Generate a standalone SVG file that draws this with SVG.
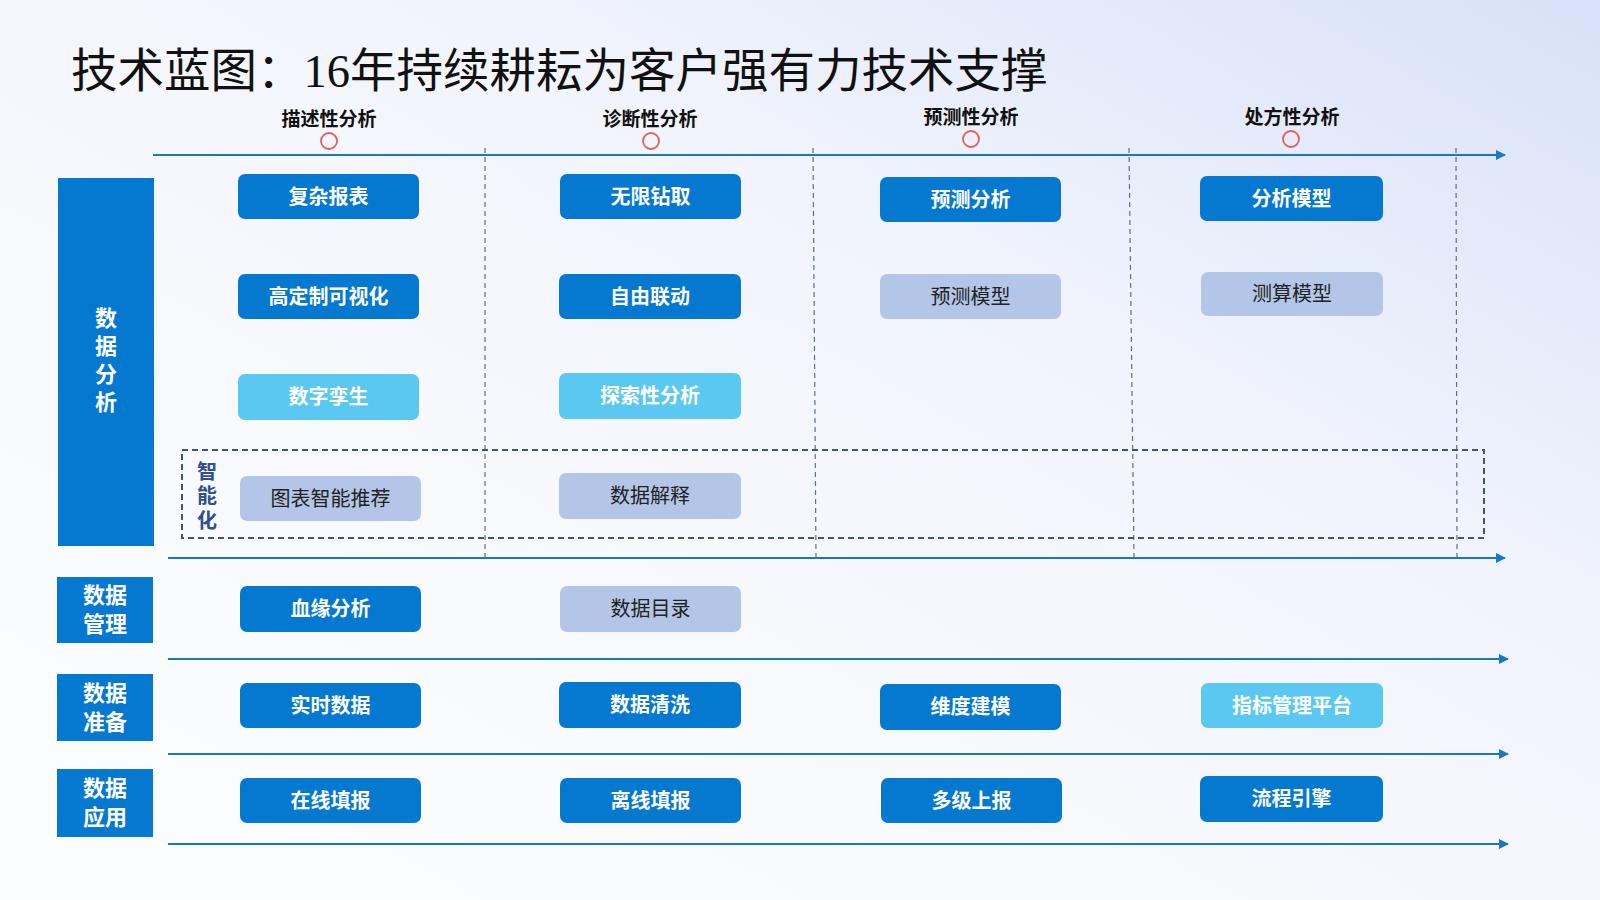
<svg xmlns="http://www.w3.org/2000/svg" width="1600" height="900" viewBox="0 0 1600 900">
<defs>
<linearGradient id="bg" x1="1" y1="0" x2="0" y2="1">
<stop offset="0" stop-color="#d8e1f8"/>
<stop offset="0.35" stop-color="#f1f4fc"/>
<stop offset="0.7" stop-color="#f9fafd"/>
<stop offset="1" stop-color="#fcfdfe"/>
</linearGradient>
<marker id="arr" viewBox="0 0 10 10" refX="9" refY="5" markerWidth="10" markerHeight="10" markerUnits="userSpaceOnUse" orient="auto">
<path d="M0,0 L10,5 L0,10 z" fill="#1a78c2"/>
</marker>
<style>
.t{font-family:"Noto Sans CJK SC","Noto Sans",sans-serif;}
.title{font-family:"Liberation Serif","Noto Sans CJK SC",serif;font-size:46.5px;fill:#111;}
.hd{font-size:19px;font-weight:700;fill:#111;text-anchor:middle;}
.dk{fill:#0578d0;}
.lt{fill:#5bc8f1;}
.gr{fill:#b4c6e7;}
.bw{font-size:20px;font-weight:700;fill:#fff;text-anchor:middle;}
.bd{font-size:20px;font-weight:400;fill:#222;text-anchor:middle;}
.side{font-size:22px;font-weight:700;fill:#fff;text-anchor:middle;}
.vert{writing-mode:vertical-rl;}
.axis{stroke:#1a78c2;stroke-width:2;fill:none;}
.vd{stroke:#5d6f88;stroke-width:1.2;stroke-dasharray:5 4;fill:none;}
.ring{fill:none;stroke:#e0605a;stroke-width:1.8;}
</style>
</defs>
<rect x="0" y="0" width="1600" height="900" fill="url(#bg)"/>

<text class="title" x="71" y="87">技术蓝图：16年持续耕耘为客户强有力技术支撑</text>

<g id="headers" class="t">
<text class="hd" x="329" y="126">描述性分析</text>
<text class="hd" x="650" y="126">诊断性分析</text>
<text class="hd" x="971" y="124">预测性分析</text>
<text class="hd" x="1292" y="124">处方性分析</text>
<circle class="ring" cx="329" cy="141" r="8"/>
<circle class="ring" cx="651" cy="141" r="8"/>
<circle class="ring" cx="971" cy="139" r="8"/>
<circle class="ring" cx="1291" cy="139" r="8"/>
</g>

<g id="connectors">
<line class="axis" x1="153" y1="155" x2="1505" y2="155" marker-end="url(#arr)"/>
<line class="axis" x1="168" y1="558" x2="1505" y2="558" marker-end="url(#arr)"/>
<line class="axis" x1="168" y1="659" x2="1508" y2="659" marker-end="url(#arr)"/>
<line class="axis" x1="168" y1="754" x2="1508" y2="754" marker-end="url(#arr)"/>
<line class="axis" x1="168" y1="844" x2="1508" y2="844" marker-end="url(#arr)"/>
<line class="vd" x1="485" y1="148" x2="485" y2="557"/>
<line class="vd" x1="813" y1="148" x2="816" y2="557"/>
<line class="vd" x1="1129" y1="148" x2="1134" y2="557"/>
<line class="vd" x1="1456" y1="148" x2="1457" y2="557"/>
</g>

<g id="smart-frame" class="t">
<rect x="182" y="450" width="1302" height="88" fill="none" stroke="#44546a" stroke-width="2" stroke-dasharray="6 4"/>
<text class="vert" x="207" y="461" font-size="20" font-weight="700" fill="#2f4f8f" letter-spacing="4.5">智能化</text>
</g>

<g id="side-analysis" class="t">
<rect class="dk" x="58" y="178" width="96" height="368"/>
<text class="vert" x="106" y="307" font-size="22" font-weight="700" fill="#fff" letter-spacing="6">数据分析</text>
</g>
<g id="side-mgmt" class="t">
<rect class="dk" x="57" y="577" width="96" height="66"/>
<text class="side" x="105" y="603">数据<tspan x="105" dy="29">管理</tspan></text>
</g>
<g id="side-prep" class="t">
<rect class="dk" x="57" y="674" width="96" height="67"/>
<text class="side" x="105" y="701">数据<tspan x="105" dy="29">准备</tspan></text>
</g>
<g id="side-app" class="t">
<rect class="dk" x="57" y="769" width="96" height="68"/>
<text class="side" x="105" y="796">数据<tspan x="105" dy="29">应用</tspan></text>
</g>

<g id="n-fuzabaobiao" class="t"><rect class="dk" x="238" y="174" width="181" height="45" rx="7"/><text class="bw" x="328.5" y="204">复杂报表</text></g>
<g id="n-wuxianzuanqu" class="t"><rect class="dk" x="560" y="174" width="181" height="45" rx="7"/><text class="bw" x="650.5" y="204">无限钻取</text></g>
<g id="n-yucefenxi" class="t"><rect class="dk" x="880" y="177" width="181" height="45" rx="7"/><text class="bw" x="970.5" y="207">预测分析</text></g>
<g id="n-fenximoxing" class="t"><rect class="dk" x="1200" y="176" width="183" height="45" rx="7"/><text class="bw" x="1291.5" y="206">分析模型</text></g>

<g id="n-gaodingzhi" class="t"><rect class="dk" x="238" y="274" width="181" height="45" rx="7"/><text class="bw" x="328.5" y="304">高定制可视化</text></g>
<g id="n-ziyouliandong" class="t"><rect class="dk" x="559" y="274" width="182" height="45" rx="7"/><text class="bw" x="650" y="304">自由联动</text></g>
<g id="n-yucemoxing" class="t"><rect class="gr" x="880" y="274" width="181" height="45" rx="7"/><text class="bd" x="970.5" y="304">预测模型</text></g>
<g id="n-cesuanmoxing" class="t"><rect class="gr" x="1201" y="272" width="182" height="44" rx="7"/><text class="bd" x="1292" y="301">测算模型</text></g>

<g id="n-shuziluansheng" class="t"><rect class="lt" x="238" y="374" width="181" height="46" rx="7"/><text class="bw" x="328.5" y="404">数字孪生</text></g>
<g id="n-tansuoxing" class="t"><rect class="lt" x="559" y="373" width="182" height="46" rx="7"/><text class="bw" x="650" y="403">探索性分析</text></g>

<g id="n-tubiaozhineng" class="t"><rect class="gr" x="240" y="476" width="181" height="45" rx="7"/><text class="bd" x="330.5" y="506">图表智能推荐</text></g>
<g id="n-shujujieshi" class="t"><rect class="gr" x="559" y="473" width="182" height="46" rx="7"/><text class="bd" x="650" y="503">数据解释</text></g>

<g id="n-xueyuan" class="t"><rect class="dk" x="240" y="586" width="181" height="46" rx="7"/><text class="bw" x="330.5" y="616">血缘分析</text></g>
<g id="n-shujumulu" class="t"><rect class="gr" x="560" y="586" width="181" height="46" rx="7"/><text class="bd" x="650.5" y="616">数据目录</text></g>

<g id="n-shishishuju" class="t"><rect class="dk" x="240" y="683" width="181" height="45" rx="7"/><text class="bw" x="330.5" y="713">实时数据</text></g>
<g id="n-shujuqingxi" class="t"><rect class="dk" x="559" y="682" width="182" height="46" rx="7"/><text class="bw" x="650" y="712">数据清洗</text></g>
<g id="n-weidujianmo" class="t"><rect class="dk" x="880" y="684" width="181" height="46" rx="7"/><text class="bw" x="970.5" y="714">维度建模</text></g>
<g id="n-zhibiao" class="t"><rect class="lt" x="1201" y="683" width="182" height="45" rx="7"/><text class="bw" x="1292" y="713">指标管理平台</text></g>

<g id="n-zaixian" class="t"><rect class="dk" x="240" y="778" width="181" height="45" rx="7"/><text class="bw" x="330.5" y="808">在线填报</text></g>
<g id="n-lixian" class="t"><rect class="dk" x="560" y="778" width="181" height="45" rx="7"/><text class="bw" x="650.5" y="808">离线填报</text></g>
<g id="n-duoji" class="t"><rect class="dk" x="881" y="778" width="181" height="45" rx="7"/><text class="bw" x="971.5" y="808">多级上报</text></g>
<g id="n-liucheng" class="t"><rect class="dk" x="1200" y="776" width="183" height="46" rx="7"/><text class="bw" x="1291.5" y="806">流程引擎</text></g>
</svg>
